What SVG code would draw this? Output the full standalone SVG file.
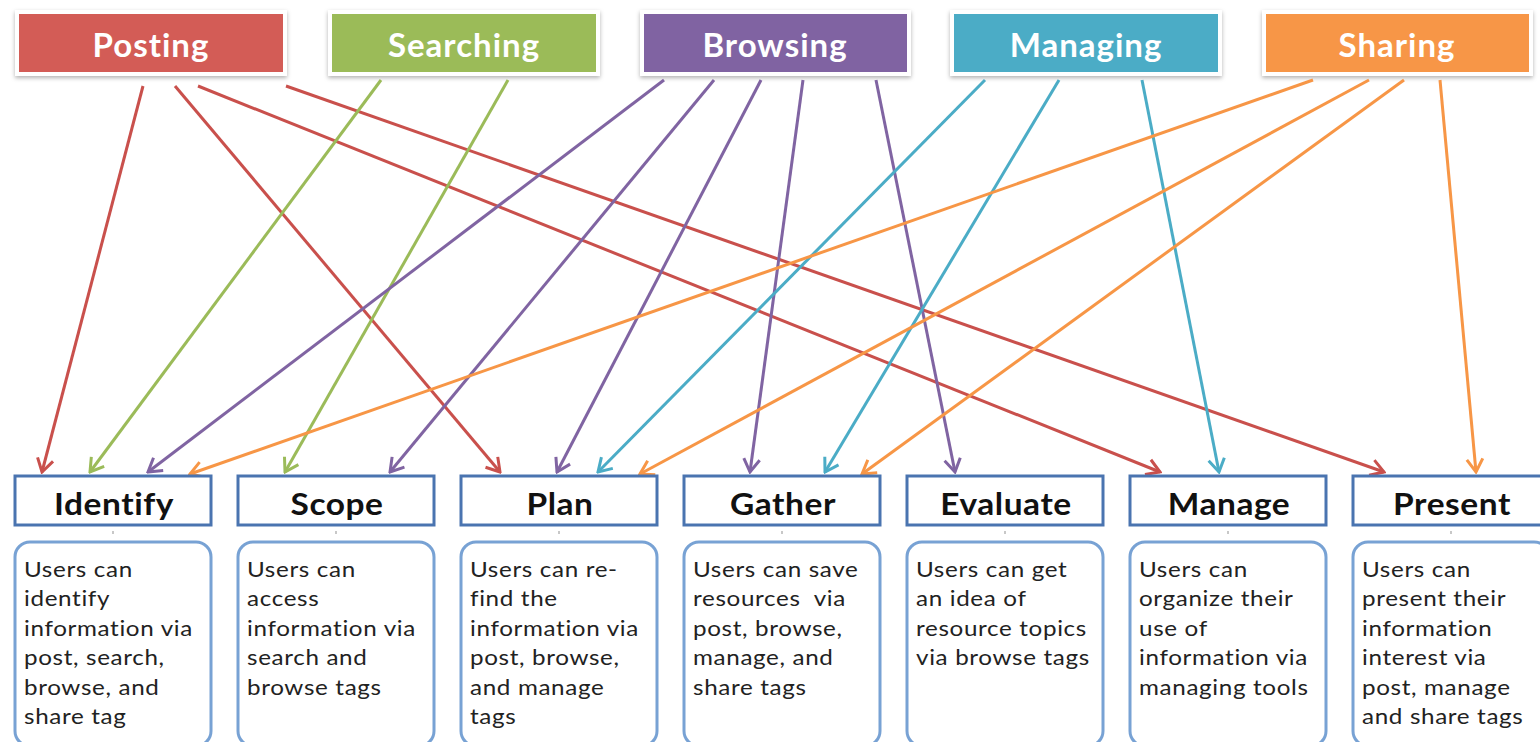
<svg xmlns="http://www.w3.org/2000/svg" width="1540" height="742" viewBox="0 0 1540 742">
  <style>
    .cat rect { stroke: #ffffff; stroke-width: 4; filter: url(#shadow); }
    .cat text { font-family: Lato, "Open Sans", sans-serif; font-weight: bold; font-size: 33px; letter-spacing: 1px; fill: #ffffff; text-anchor: middle; }
    .stage .head { fill: #ffffff; stroke: #4a74b0; stroke-width: 3; }
    .stage .desc { fill: #ffffff; stroke: #78a2d4; stroke-width: 3; }
    .stage .title { font-family: Lato, "Open Sans", sans-serif; font-weight: bold; font-size: 31px; letter-spacing: 0.5px; fill: #111111; text-anchor: middle; }
    .stage .body { font-family: Lato, "Open Sans", sans-serif; font-size: 22px; letter-spacing: 0.6px; fill: #222222; }
    .stage .dot { fill: #c8c8c8; }
    .links line { stroke-width: 3; fill: none; }
    .r { stroke: #c9504c; }
    .g { stroke: #9bbb59; }
    .p { stroke: #8064a2; }
    .c { stroke: #4bacc6; }
    .o { stroke: #f79646; }
  </style>
  <defs>
    <filter id="shadow" x="-10%" y="-20%" width="120%" height="150%">
      <feDropShadow dx="0" dy="2" stdDeviation="2" flood-color="#000000" flood-opacity="0.3"/>
    </filter>
    <marker id="ah-r" markerUnits="userSpaceOnUse" viewBox="-16 -10 18 20" markerWidth="18" markerHeight="20" refX="0" refY="0" orient="auto">
      <path d="M -13 -8 L 0 0 L -13 8" fill="none" stroke="#c9504c" stroke-width="3"/>
    </marker>
    <marker id="ah-g" markerUnits="userSpaceOnUse" viewBox="-16 -10 18 20" markerWidth="18" markerHeight="20" refX="0" refY="0" orient="auto">
      <path d="M -13 -8 L 0 0 L -13 8" fill="none" stroke="#9bbb59" stroke-width="3"/>
    </marker>
    <marker id="ah-p" markerUnits="userSpaceOnUse" viewBox="-16 -10 18 20" markerWidth="18" markerHeight="20" refX="0" refY="0" orient="auto">
      <path d="M -13 -8 L 0 0 L -13 8" fill="none" stroke="#8064a2" stroke-width="3"/>
    </marker>
    <marker id="ah-c" markerUnits="userSpaceOnUse" viewBox="-16 -10 18 20" markerWidth="18" markerHeight="20" refX="0" refY="0" orient="auto">
      <path d="M -13 -8 L 0 0 L -13 8" fill="none" stroke="#4bacc6" stroke-width="3"/>
    </marker>
    <marker id="ah-o" markerUnits="userSpaceOnUse" viewBox="-16 -10 18 20" markerWidth="18" markerHeight="20" refX="0" refY="0" orient="auto">
      <path d="M -13 -8 L 0 0 L -13 8" fill="none" stroke="#f79646" stroke-width="3"/>
    </marker>
  </defs>

  <rect width="1540" height="742" fill="#ffffff"/>

  <!-- tagging activities -->
  <g id="posting" class="cat">
    <rect x="17" y="12" width="268" height="62" style="fill:#d35b57"/>
    <text x="151" y="57">Posting</text>
  </g>
  <g id="searching" class="cat">
    <rect x="330" y="12" width="268" height="62" style="fill:#9bbb59"/>
    <text x="464" y="57">Searching</text>
  </g>
  <g id="browsing" class="cat">
    <rect x="642" y="12" width="267" height="62" style="fill:#8064a2"/>
    <text x="775" y="57">Browsing</text>
  </g>
  <g id="managing" class="cat">
    <rect x="952" y="12" width="268" height="62" style="fill:#4bacc6"/>
    <text x="1086" y="57">Managing</text>
  </g>
  <g id="sharing" class="cat">
    <rect x="1264" y="12" width="267" height="62" style="fill:#f79646"/>
    <text x="1397" y="57">Sharing</text>
  </g>

  <!-- connectors -->
  <g id="links" class="links">
    <line class="r" x1="143" y1="86" x2="42" y2="472" marker-end="url(#ah-r)"/>
    <line class="r" x1="175" y1="86" x2="500" y2="472" marker-end="url(#ah-r)"/>
    <line class="r" x1="198" y1="86" x2="1160" y2="472" marker-end="url(#ah-r)"/>
    <line class="r" x1="286" y1="86" x2="1384" y2="472" marker-end="url(#ah-r)"/>

    <line class="g" x1="381" y1="80" x2="90" y2="472" marker-end="url(#ah-g)"/>
    <line class="g" x1="508" y1="80" x2="285" y2="472" marker-end="url(#ah-g)"/>

    <line class="p" x1="664" y1="80" x2="148" y2="472" marker-end="url(#ah-p)"/>
    <line class="p" x1="714" y1="80" x2="390" y2="472" marker-end="url(#ah-p)"/>
    <line class="p" x1="761" y1="80" x2="557" y2="472" marker-end="url(#ah-p)"/>
    <line class="p" x1="803" y1="80" x2="750" y2="472" marker-end="url(#ah-p)"/>
    <line class="p" x1="876" y1="80" x2="955" y2="472" marker-end="url(#ah-p)"/>

    <line class="c" x1="985" y1="80" x2="598" y2="472" marker-end="url(#ah-c)"/>
    <line class="c" x1="1059" y1="80" x2="825" y2="472" marker-end="url(#ah-c)"/>
    <line class="c" x1="1142" y1="80" x2="1219" y2="472" marker-end="url(#ah-c)"/>

    <line class="o" x1="1313" y1="80" x2="190" y2="474" marker-end="url(#ah-o)"/>
    <line class="o" x1="1369" y1="80" x2="640" y2="474" marker-end="url(#ah-o)"/>
    <line class="o" x1="1404" y1="80" x2="862" y2="474" marker-end="url(#ah-o)"/>
    <line class="o" x1="1440" y1="80" x2="1476" y2="472" marker-end="url(#ah-o)"/>
  </g>

  <!-- information stages: text is widened slightly with a horizontal scale -->
  <g id="identify" class="stage">
    <rect class="head" x="15" y="476" width="196" height="49"/>
    <text class="title" transform="matrix(1.08 0 0 1 114 515)">Identify</text>
    <rect class="dot" x="112" y="531" width="2" height="3"/>
    <rect class="desc" x="15" y="542" width="196" height="204" rx="15"/>
    <text class="body" transform="matrix(1.1 0 0 1 24 0)"><tspan x="0" y="577">Users can</tspan><tspan x="0" y="606">identify</tspan><tspan x="0" y="636">information via</tspan><tspan x="0" y="665">post, search,</tspan><tspan x="0" y="695">browse, and</tspan><tspan x="0" y="724">share tag</tspan></text>
  </g>
  <g id="scope" class="stage">
    <rect class="head" x="238" y="476" width="196" height="49"/>
    <text class="title" transform="matrix(1.08 0 0 1 337 515)">Scope</text>
    <rect class="dot" x="335" y="531" width="2" height="3"/>
    <rect class="desc" x="238" y="542" width="196" height="204" rx="15"/>
    <text class="body" transform="matrix(1.1 0 0 1 247 0)"><tspan x="0" y="577">Users can</tspan><tspan x="0" y="606">access</tspan><tspan x="0" y="636">information via</tspan><tspan x="0" y="665">search and</tspan><tspan x="0" y="695">browse tags</tspan></text>
  </g>
  <g id="plan" class="stage">
    <rect class="head" x="461" y="476" width="196" height="49"/>
    <text class="title" transform="matrix(1.08 0 0 1 560 515)">Plan</text>
    <rect class="dot" x="558" y="531" width="2" height="3"/>
    <rect class="desc" x="461" y="542" width="196" height="204" rx="15"/>
    <text class="body" transform="matrix(1.1 0 0 1 470 0)"><tspan x="0" y="577">Users can re-</tspan><tspan x="0" y="606">find the</tspan><tspan x="0" y="636">information via</tspan><tspan x="0" y="665">post, browse,</tspan><tspan x="0" y="695">and manage</tspan><tspan x="0" y="724">tags</tspan></text>
  </g>
  <g id="gather" class="stage">
    <rect class="head" x="684" y="476" width="196" height="49"/>
    <text class="title" transform="matrix(1.08 0 0 1 783 515)">Gather</text>
    <rect class="dot" x="781" y="531" width="2" height="3"/>
    <rect class="desc" x="684" y="542" width="196" height="204" rx="15"/>
    <text class="body" xml:space="preserve" transform="matrix(1.1 0 0 1 693 0)"><tspan x="0" y="577">Users can save</tspan><tspan x="0" y="606">resources  via</tspan><tspan x="0" y="636">post, browse,</tspan><tspan x="0" y="665">manage, and</tspan><tspan x="0" y="695">share tags</tspan></text>
  </g>
  <g id="evaluate" class="stage">
    <rect class="head" x="907" y="476" width="196" height="49"/>
    <text class="title" transform="matrix(1.08 0 0 1 1006 515)">Evaluate</text>
    <rect class="dot" x="1004" y="531" width="2" height="3"/>
    <rect class="desc" x="907" y="542" width="196" height="204" rx="15"/>
    <text class="body" transform="matrix(1.1 0 0 1 916 0)"><tspan x="0" y="577">Users can get</tspan><tspan x="0" y="606">an idea of</tspan><tspan x="0" y="636">resource topics</tspan><tspan x="0" y="665">via browse tags</tspan></text>
  </g>
  <g id="manage" class="stage">
    <rect class="head" x="1130" y="476" width="196" height="49"/>
    <text class="title" transform="matrix(1.08 0 0 1 1229 515)">Manage</text>
    <rect class="dot" x="1227" y="531" width="2" height="3"/>
    <rect class="desc" x="1130" y="542" width="196" height="204" rx="15"/>
    <text class="body" transform="matrix(1.1 0 0 1 1139 0)"><tspan x="0" y="577">Users can</tspan><tspan x="0" y="606">organize their</tspan><tspan x="0" y="636">use of</tspan><tspan x="0" y="665">information via</tspan><tspan x="0" y="695">managing tools</tspan></text>
  </g>
  <g id="present" class="stage">
    <rect class="head" x="1353" y="476" width="196" height="49"/>
    <text class="title" transform="matrix(1.08 0 0 1 1452 515)">Present</text>
    <rect class="dot" x="1450" y="531" width="2" height="3"/>
    <rect class="desc" x="1353" y="542" width="196" height="204" rx="15"/>
    <text class="body" transform="matrix(1.1 0 0 1 1362 0)"><tspan x="0" y="577">Users can</tspan><tspan x="0" y="606">present their</tspan><tspan x="0" y="636">information</tspan><tspan x="0" y="665">interest via</tspan><tspan x="0" y="695">post, manage</tspan><tspan x="0" y="724">and share tags</tspan></text>
  </g>
</svg>
